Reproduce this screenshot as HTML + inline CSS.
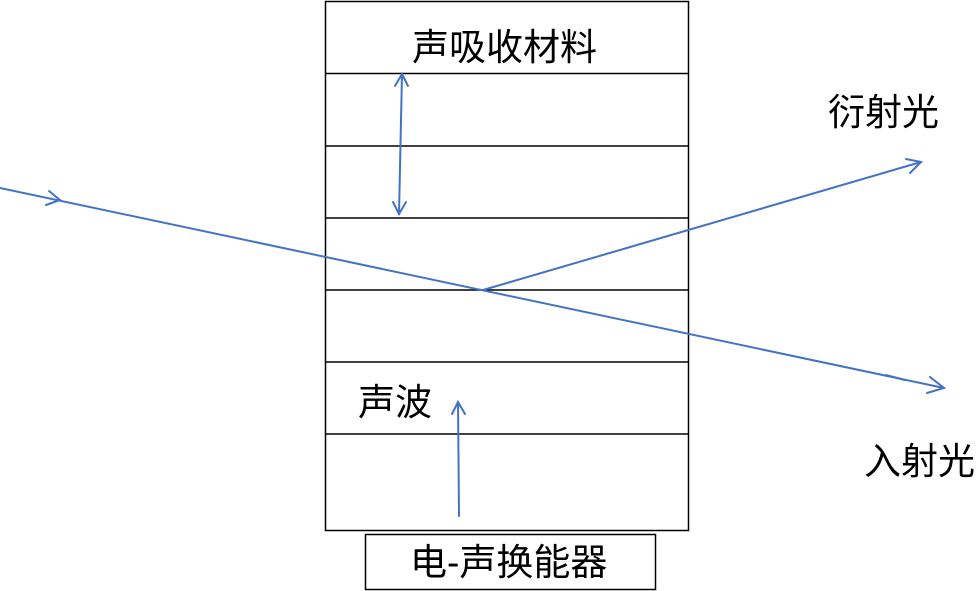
<!DOCTYPE html>
<html><head><meta charset="utf-8"><style>
html,body{margin:0;padding:0;background:#fff;}
svg{display:block}
text{font-family:"Liberation Sans","Noto Sans CJK SC",sans-serif;font-size:37px;fill:#000}
</style></head><body>
<svg width="978" height="591" viewBox="0 0 978 591">
<g stroke="#000" stroke-width="1.5" fill="none">
<rect x="325.5" y="1.5" width="363" height="529"/>
<line x1="325" y1="73.5" x2="689" y2="73.5"/>
<line x1="325" y1="146" x2="689" y2="146"/>
<line x1="325" y1="218" x2="689" y2="218"/>
<line x1="325" y1="290" x2="689" y2="290"/>
<line x1="325" y1="362" x2="689" y2="362"/>
<line x1="325" y1="434" x2="689" y2="434"/>
<rect x="365.5" y="534.5" width="290" height="55"/>
</g>
<g stroke="#4472C4" stroke-width="2" fill="none" stroke-linecap="round">
<line x1="0" y1="188" x2="944" y2="388"/>
<polyline points="49,191 60,200 46,205"/>
<polyline points="930,377 944,388 927,393"/>
<line x1="886" y1="375" x2="905" y2="380"/>
<line x1="483" y1="290" x2="921" y2="162"/>
<polyline points="906,159 921,162 910,173"/>
<line x1="402" y1="74" x2="399" y2="214"/>
<polyline points="395,86 402,74 408,86"/>
<polyline points="393,202 399,214 406,202"/>
<line x1="459" y1="516" x2="458" y2="402"/>
<polyline points="452,414 458,402 465,414"/>
</g>
<text x="412" y="60">声吸收材料</text>
<text x="828" y="125">衍射光</text>
<text x="358" y="415">声波</text>
<text x="864" y="474">入射光</text>
<text x="410" y="575">电-声换能器</text>
</svg>
</body></html>
